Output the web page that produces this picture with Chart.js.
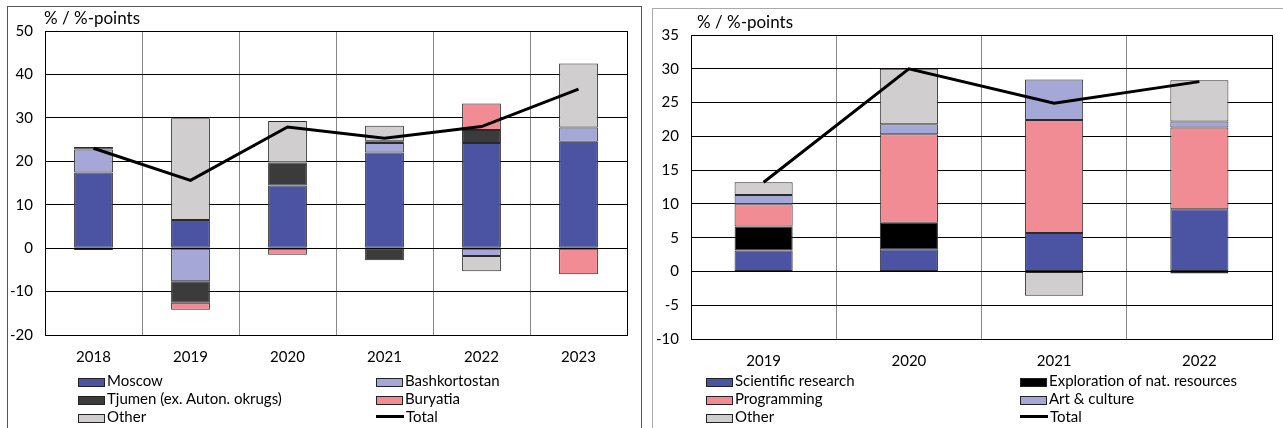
<!DOCTYPE html>
<html>
<head>
<meta charset="utf-8">
<script src="https://cdn.jsdelivr.net/npm/chart.js@4/dist/chart.umd.min.js"></script>
<style>
  body { margin: 0; background: #fff; width: 1283px; height: 428px; overflow: hidden; position: relative; font-family: 'Lato', sans-serif; }
  .panel { position: absolute; box-sizing: border-box; }
  #panelL { left: 7px; top: 6px; width: 635px; height: 440px; border: 1px solid #555; }
  #panelR { left: 652px; top: 8px; width: 640px; height: 440px; border: 1px solid #aaa; }
  canvas { position: absolute; }
  .ytitle { position: absolute; font-size: 17px; color: #000; }
  .leg { position: absolute; font-size: 15px; color: #000; line-height: 16px; white-space: nowrap; }
  .leg .box { display: inline-block; width: 27px; height: 9px; border: 1px solid #222; vertical-align: -1px; margin-right: 2px; box-sizing: border-box; }
  .leg .ln { display: inline-block; width: 28px; height: 3px; background: #000; vertical-align: 4px; margin-right: 2px; }
</style>
</head>
<body>
<div class="panel" id="panelL"></div>
<div class="panel" id="panelR"></div>
<canvas id="chartL" width="640" height="372" style="left:0;top:0"></canvas>
<canvas id="chartR" width="640" height="376" style="left:643px;top:0"></canvas>
<div class="ytitle" style="left:44px;top:7px">% / %-points</div>
<div class="ytitle" style="left:697px;top:11px">% / %-points</div>
<div id="legendL"></div>
<div id="legendR"></div>
<script>
// left chart: regions
const yearsL = ['2018', '2019', '2020', '2021', '2022', '2023'];
const moscow = [17.4, 6.5, 14.4, 22.0, 24.2, 24.5];
const bashkortostan = [5.3, -7.6, null, 2.2, -1.8, 3.3];
const tjumen = [0.6, -5.0, 5.3, -2.8, 3.0, null];
const buryatia = [-0.4, -1.6, -1.5, 0.4, 6.1, -6.0];
const otherL = [null, 23.4, 9.6, 3.6, -3.5, 14.7];
const totalL = [23.0, 15.6, 27.9, 25.3, 28.0, 36.6];
const ticksL = { min: -20, max: 50, step: 10 };

// right chart: activities
const yearsR = ['2019', '2020', '2021', '2022'];
const sciResearch = [3.1, 3.3, 5.7, 9.2];
const exploration = [3.55, 3.9, null, -0.3];
const programming = [3.3, 13.1, 16.7, 12.1];
const artCulture = [1.35, 1.5, 6.0, 0.9];
const otherR = [1.9, 8.2, -3.6, 6.1];
const totalR = [13.2, 30.0, 24.9, 28.1];
const ticksR = { min: -10, max: 35, step: 5 };

const COL = {
  blue: '#4b53a3', lilac: '#a5a8d6', dark: '#3b3b3b', pink: '#f28c94',
  grey: '#d0cecf', black: '#000000'
};

function barSet(label, data, color) {
  return {
    type: 'bar', label: label, data: data, backgroundColor: color,
    borderColor: '#2a2a2a', borderWidth: 1, borderSkipped: false,
    barPercentage: 0.4, categoryPercentage: 1, stack: 'bars', order: 1
  };
}

function lineSet(data) {
  return {
    type: 'line', label: 'Total', data: data, borderColor: '#000', borderWidth: 3,
    pointRadius: 0, tension: 0, stack: 'total', order: 0, fill: false
  };
}

// black frame round the plot area
const framePlugin = {
  id: 'frame',
  afterDraw(chart) {
    const a = chart.chartArea, c = chart.ctx;
    c.save();
    c.strokeStyle = '#000';
    c.lineWidth = 1;
    c.strokeRect(Math.round(a.left) + 0.5, Math.round(a.top) + 0.5, Math.round(a.right - a.left), Math.round(a.bottom - a.top));
    c.restore();
  }
};

function makeChart(id, labels, datasets, t, yWidth, xHeight, pad) {
  return new Chart(document.getElementById(id), {
    data: { labels: labels, datasets: datasets },
    plugins: [framePlugin],
    options: {
      responsive: false, animation: false, devicePixelRatio: 1,
      layout: { padding: pad },
      plugins: { legend: { display: false }, tooltip: { enabled: false } },
      scales: {
        x: {
          stacked: true,
          grid: { color: '#888', drawTicks: false, offset: true },
          border: { color: '#000' },
          ticks: { color: '#000', padding: 13, font: { family: 'Lato', size: 15 } },
          afterFit(s) { s.height = xHeight; }
        },
        y: {
          stacked: true, min: t.min, max: t.max,
          grid: { color: '#000', drawTicks: false },
          border: { color: '#000' },
          ticks: { stepSize: t.step, color: '#000', padding: 12, font: { family: 'Lato', size: 15 } },
          afterFit(s) { s.width = yWidth; }
        }
      }
    }
  });
}

const dsL = [
  barSet('Moscow', moscow, COL.blue),
  barSet('Bashkortostan', bashkortostan, COL.lilac),
  barSet('Tjumen (ex. Auton. okrugs)', tjumen, COL.dark),
  barSet('Buryatia', buryatia, COL.pink),
  barSet('Other', otherL, COL.grey),
  lineSet(totalL)
];
const dsR = [
  barSet('Scientific research', sciResearch, COL.blue),
  barSet('Exploration of nat. resources', exploration, COL.black),
  barSet('Programming', programming, COL.pink),
  barSet('Art & culture', artCulture, COL.lilac),
  barSet('Other', otherR, COL.grey),
  lineSet(totalR)
];

makeChart('chartL', yearsL, dsL, ticksL, 45, 37, { top: 31, right: 13, left: 0, bottom: 0 });
makeChart('chartR', yearsR, dsR, ticksR, 48, 37, { top: 35, right: 11, left: 0, bottom: 0 });

// legend in two columns, built from the datasets
function buildLegend(el, datasets, order, cols, top) {
  const root = document.getElementById(el);
  order.forEach((idx, i) => {
    const ds = datasets[idx];
    const d = document.createElement('div');
    d.className = 'leg';
    d.style.left = cols[i % 2] + 'px';
    d.style.top = (top + Math.floor(i / 2) * 18) + 'px';
    const mark = document.createElement('span');
    if (ds.type === 'line') {
      mark.className = 'ln';
    } else {
      mark.className = 'box';
      mark.style.background = ds.backgroundColor;
    }
    d.appendChild(mark);
    d.appendChild(document.createTextNode(ds.label));
    root.appendChild(d);
  });
}
buildLegend('legendL', dsL, [0, 1, 2, 3, 4, 5], [78, 376], 372);
buildLegend('legendR', dsR, [0, 1, 2, 3, 4, 5], [706, 1020], 372);
</script>
</body>
</html>
